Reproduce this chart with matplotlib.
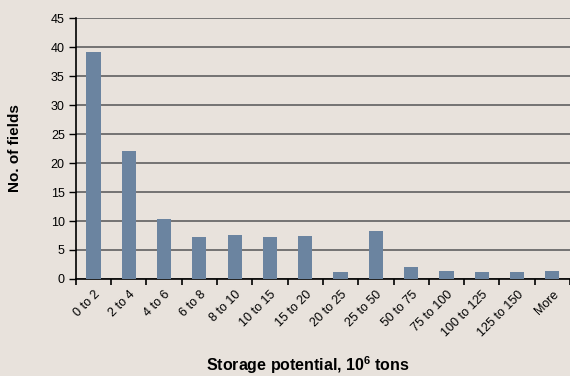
import numpy as np
import matplotlib
matplotlib.use('Agg')
import matplotlib.pyplot as plt

categories = ['0 to 2', '2 to 4', '4 to 6', '6 to 8', '8 to 10', '10 to 15', '15 to 20',
              '20 to 25', '25 to 50', '50 to 75', '75 to 100', '100 to 125', '125 to 150', 'More']
fields = [39.1, 22.0, 10.3, 7.2, 7.6, 7.2, 7.4, 1.2, 8.3, 2.1, 1.4, 1.2, 1.2, 1.4]

bg = '#E8E2DC'
plt.rcParams['font.family'] = ['Liberation Sans', 'DejaVu Sans']
plt.rcParams['mathtext.fontset'] = 'custom'
plt.rcParams['mathtext.rm'] = 'Liberation Sans'
plt.rcParams['mathtext.bf'] = 'Liberation Sans:bold'

fig = plt.figure(figsize=(5.7, 3.76), dpi=100, facecolor=bg)
ax = fig.add_axes([0.133, 0.258, 0.867, 0.694], facecolor=bg)

x = np.arange(len(categories))
ax.bar(x, fields, width=0.4, color='#6B84A0', zorder=3)

ax.set_xlim(-0.5, len(categories) - 0.5)
ax.set_ylim(0, 45)
ax.set_yticks(range(0, 46, 5))
ax.yaxis.grid(True, color='#6a6a6a', linewidth=1.3, zorder=1)
ax.set_axisbelow(True)

# ticks between categories, labels centred under bars
ax.set_xticks(np.arange(-0.5, len(categories), 1))
ax.set_xticklabels([])
ax.set_xticks(x, minor=True)
ax.set_xticklabels(categories, minor=True, rotation=45, ha='right', rotation_mode='anchor', fontsize=9)
ax.tick_params(axis='x', which='minor', length=0, pad=7)
ax.tick_params(axis='x', which='major', length=4, width=1.2, direction='out')
ax.tick_params(axis='y', length=5, width=1, labelsize=9, pad=3)

for s in ['top', 'right']:
    ax.spines[s].set_visible(False)
ax.spines['left'].set_linewidth(1.2)
ax.spines['bottom'].set_linewidth(1.2)

fig.text(0.026, 0.605, 'No. of fields', rotation=90, ha='center', va='center', fontsize=11, fontweight='bold')
fig.text(0.54, 0.012, r'Storage potential, $\mathbf{10^{6}}$ tons', ha='center', fontsize=11.5, fontweight='bold')

fig.savefig('out.png', dpi=100, facecolor=bg)
